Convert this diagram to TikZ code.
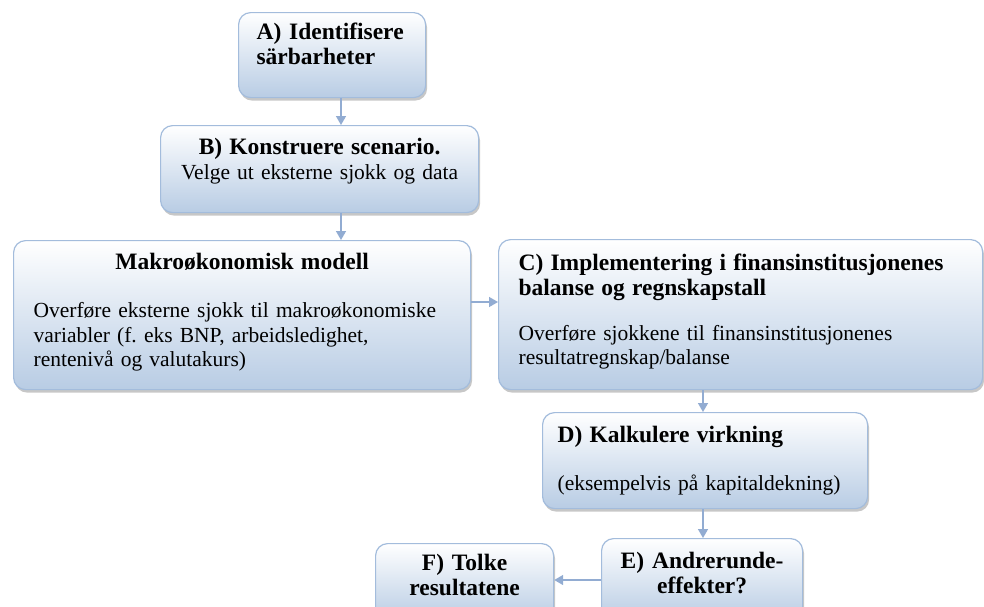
\documentclass[tikz,border=0pt]{standalone}
\usepackage{fontspec}
\setmainfont{Liberation Serif}
\usepackage{tikz}
\usetikzlibrary{arrows.meta, shadows}
\definecolor{boxblue}{RGB}{184,204,228}
\definecolor{edgeblue}{RGB}{163,188,220}
\definecolor{arrblue}{RGB}{146,172,210}
\setlength{\parindent}{0pt}
\frenchspacing
\hyphenpenalty=10000
\newcommand{\hd}{\fontsize{23.5}{24.5}\selectfont\bfseries}
\newcommand{\bd}{\fontsize{21.5}{24.5}\selectfont\mdseries}

\begin{document}
\begin{tikzpicture}[
    x=1pt, y=-1pt,
    box/.style={rectangle, rounded corners=12pt, draw=edgeblue, line width=1.2pt,
                top color=white, bottom color=boxblue, anchor=north west,
                inner ysep=0pt, align=left, font=\bd,
                drop shadow={shadow xshift=1.5pt, shadow yshift=-3pt, fill=black, opacity=0.22}},
    arr/.style={-{Triangle[length=9pt, width=10pt]}, line width=1.5pt, draw=arrblue}
]
\useasboundingbox (0,0) rectangle (984,606);

\node[box, font=\hd, inner xsep=18pt, text width=151pt, text height=27pt, text depth=58pt] (A) at (238,12)
    {A) Identifisere\\särbarheter};
\node[box, align=center, inner xsep=10pt, text width=298pt, text height=29pt, text depth=58pt] (B) at (160,125)
    {\hd B) Konstruere scenario.\\\bd Velge ut eksterne sjokk og data};
\node[box, inner xsep=20pt, text width=417pt, text height=29pt, text depth=120pt] (makro) at (13,240)
    {\centerline{\hd Makroøkonomisk modell}\\[23.5pt]Overføre eksterne sjokk til makroøkonomiske\\variabler (f. eks BNP, arbeidsledighet,\\rentenivå og valutakurs)};
\node[box, inner xsep=20pt, text width=444pt, text height=31pt, text depth=119pt] (C) at (498,239)
    {\hd C) Implementering i finansinstitusjonenes\\balanse og regnskapstall\\[20.5pt]\bd Overføre sjokkene til finansinstitusjonenes\\resultatregnskap/balanse};
\node[box, inner xsep=15pt, text width=295pt, text height=30pt, text depth=66pt] (D) at (542,412)
    {\hd D) Kalkulere virkning\\[23.5pt]\bd (eksempelvis på kapitaldekning)};
\node[box, font=\hd, align=center, inner xsep=10pt, text width=181pt, text height=30pt, text depth=52pt] (E) at (601,538)
    {E) Andrerunde-\\effekter?};
\node[box, font=\hd, align=center, inner xsep=10pt, text width=158pt, text height=27pt, text depth=50pt] (F) at (375,543)
    {F) Tolke\\resultatene};

\coordinate (ax) at (341,0);
\coordinate (dx) at (703,0);
\coordinate (my) at (0,302);
\coordinate (ey) at (0,580);

\draw[arr] (A.south -| ax) -- (B.north -| ax);
\draw[arr] (B.south -| ax) -- (makro.north -| ax);
\draw[arr] (makro.east |- my) -- (C.west |- my);
\draw[arr] (C.south -| dx) -- (D.north -| dx);
\draw[arr] (D.south -| dx) -- (E.north -| dx);
\draw[arr] (E.west |- ey) -- (F.east |- ey);
\end{tikzpicture}
\end{document}
